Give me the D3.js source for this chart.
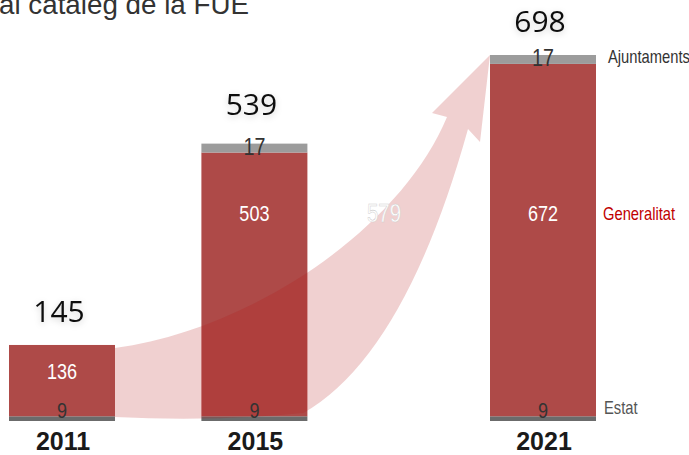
<!DOCTYPE html>
<html>
<head>
<meta charset="utf-8">
<script src="https://cdn.jsdelivr.net/npm/d3@7"></script>
<style>
  body { margin: 0; background: #fff; }
  svg { display: block; }
  .narrow { font-family: "Liberation Sans Narrow", "Arial Narrow", "Liberation Sans", sans-serif; }
</style>
</head>
<body>
<div id="chart-container"></div>
<script>
// data
const years = [2011, 2015, 2021];
const estat = [9, 9, 9];
const generalitat = [136, 503, 672];
const ajuntaments = [0, 17, 17];
const totals = [145, 539, 698];
const seriesNames = ["Estat", "Generalitat", "Ajuntaments"];
const growthLabel = "579";

/** CONSTANTS */
const width = 689;
const height = 455;
const barWidth = 106;
const midRowY = 213; // row where the legend "Generalitat" and the long segment labels sit
const squeeze = 0.82; // no narrow font installed, so condense the sans by hand
const colors = { Estat: "#6b6b6b", Generalitat: "#ae4a48", Ajuntaments: "#9c9c9c" };
const legendColors = { Estat: "#555", Generalitat: "#c00000", Ajuntaments: "#333" };

// build stacked rows
const rows = years.map((y, i) => ({ year: y, Estat: estat[i], Generalitat: generalitat[i], Ajuntaments: ajuntaments[i], total: totals[i] }));
const stacked = d3.stack().keys(seriesNames)(rows);

/** SCALES */
const xScale = d3.scaleLinear()
  .domain([2011, 2021])
  .range([62, 543]);

const yScale = d3.scaleLinear()
  .domain([0, d3.max(rows, d => d.Estat + d.Generalitat + d.Ajuntaments)])
  .range([421, 55]);

/** DRAWING ELEMENTS */
const svg = d3.select("#chart-container")
  .append("svg")
  .attr("width", width)
  .attr("height", height);

const defs = svg.append("defs");
const shadow = defs.append("filter").attr("id", "soft").attr("x", "-30%").attr("y", "-30%").attr("width", "160%").attr("height", "160%");
shadow.append("feDropShadow").attr("dx", 0).attr("dy", 2).attr("stdDeviation", 3).attr("flood-color", "#000").attr("flood-opacity", 0.18);

// narrow text helper
function narrowText(sel) {
  return sel.attr("class", (d, i, n) => (n[i].getAttribute("class") || "") + " narrow")
    .attr("transform", d => `translate(${d.x},${d.y}) scale(${squeeze},1)`);
}

// title (cut off at the top of the slide)
svg.append("text")
  .attr("x", -1)
  .attr("y", 14)
  .attr("font-family", "Liberation Sans, Arial, sans-serif")
  .attr("font-size", 27)
  .attr("textLength", 250)
  .attr("lengthAdjust", "spacingAndGlyphs")
  .attr("fill", "#333")
  .text("al catàleg de la FUE");

// bars
svg.selectAll("g.series")
  .data(stacked)
  .join("g")
  .attr("class", "series")
  .attr("fill", d => colors[d.key])
  .selectAll("rect")
  .data(d => d.filter(s => s[1] > s[0]))
  .join("rect")
  .attr("x", d => xScale(d.data.year) - barWidth / 2)
  .attr("y", d => yScale(d[1]))
  .attr("width", barWidth)
  .attr("height", d => yScale(d[0]) - yScale(d[1]));

// growth arrow from the 2011 bar to the top of the 2021 bar
const first = rows[0], last = rows[rows.length - 1];
const x0 = xScale(first.year) + barWidth / 2;
const xMid = xScale(years[1]) + barWidth / 2 - 4;
const tipX = xScale(last.year) - barWidth / 2;
const tipY = yScale(last.Estat + last.Generalitat + last.Ajuntaments);
const base = yScale(0);
const startTop = yScale(first.Estat + first.Generalitat) + 3;

const p = d3.path();
p.moveTo(x0, startTop);
p.bezierCurveTo(x0 + 135, startTop - 18, tipX - 90, tipY + 175, tipX - 43, tipY + 62);
p.lineTo(tipX - 58, tipY + 58);
p.lineTo(tipX, tipY);
p.lineTo(tipX - 10, tipY + 87);
p.lineTo(tipX - 22, tipY + 74);
p.quadraticCurveTo(tipX - 85, tipY + 300, xMid, base - 8);
p.quadraticCurveTo(210, base + 1, x0, base - 4);
p.closePath();

svg.append("path")
  .attr("d", p.toString())
  .attr("fill", "rgb(180,20,20)")
  .attr("fill-opacity", 0.2);

svg.selectAll("text.growth")
  .data([{ x: 384, y: 222, text: growthLabel }])
  .join("text")
  .attr("class", "growth")
  .call(narrowText)
  .attr("text-anchor", "middle")
  .attr("font-size", 25)
  .attr("fill", "#fff")
  .attr("stroke", "#cfcfcf")
  .attr("stroke-width", 0.5)
  .text(d => d.text);

// segment labels
const segLabels = [];
stacked.forEach(s => s.forEach(d => {
  if (d[1] <= d[0]) return;
  const top = yScale(d[1]), bottom = yScale(d[0]);
  let y, fill;
  if (s.key === "Estat") { y = bottom - 3; fill = "#333"; }
  else if (s.key === "Ajuntaments") { y = bottom + 2; fill = "#333"; }
  else {
    fill = "#fff";
    y = (top < midRowY && bottom > midRowY) ? midRowY + 8 : (top + bottom) / 2 - 2;
  }
  segLabels.push({ x: xScale(d.data.year), y, fill, text: d[1] - d[0], key: s.key });
}));

svg.selectAll("text.seg")
  .data(segLabels)
  .join("text")
  .attr("class", "seg")
  .call(narrowText)
  .attr("text-anchor", "middle")
  .attr("font-size", d => d.key === "Ajuntaments" ? 24 : 22)
  .attr("fill", d => d.fill)
  .text(d => d.text);

// totals above the bars
svg.selectAll("text.total")
  .data(rows)
  .join("text")
  .attr("class", "total")
  .attr("x", d => xScale(d.year) - 3)
  .attr("y", d => yScale(d.total) - 23)
  .attr("text-anchor", "middle")
  .attr("font-family", "Open Sans, Noto Sans, sans-serif")
  .attr("font-size", 30)
  .attr("fill", "#111")
  .attr("filter", "url(#soft)")
  .text(d => d.total);

// year labels
svg.selectAll("text.year")
  .data(rows)
  .join("text")
  .attr("class", "year")
  .attr("x", d => xScale(d.year) + 1)
  .attr("y", 450)
  .attr("text-anchor", "middle")
  .attr("font-family", "Liberation Sans, Arial, sans-serif")
  .attr("font-weight", "bold")
  .attr("font-size", 25)
  .attr("fill", "#1a1a1a")
  .text(d => d.year);

// legend labels to the right of the last bar
const lastStack = stacked.map(s => s[s.length - 1]);
const legendData = [
  { name: "Ajuntaments", x: 608, y: (yScale(lastStack[2][0]) + yScale(lastStack[2][1])) / 2 + 4 },
  { name: "Generalitat", x: 603, y: midRowY + 7 },
  { name: "Estat", x: 604, y: yScale(0) - 7 }
];
svg.selectAll("text.legend")
  .data(legendData)
  .join("text")
  .attr("class", "legend")
  .call(narrowText)
  .attr("font-size", 18)
  .attr("fill", d => legendColors[d.name])
  .text(d => d.name);
</script>
</body>
</html>
